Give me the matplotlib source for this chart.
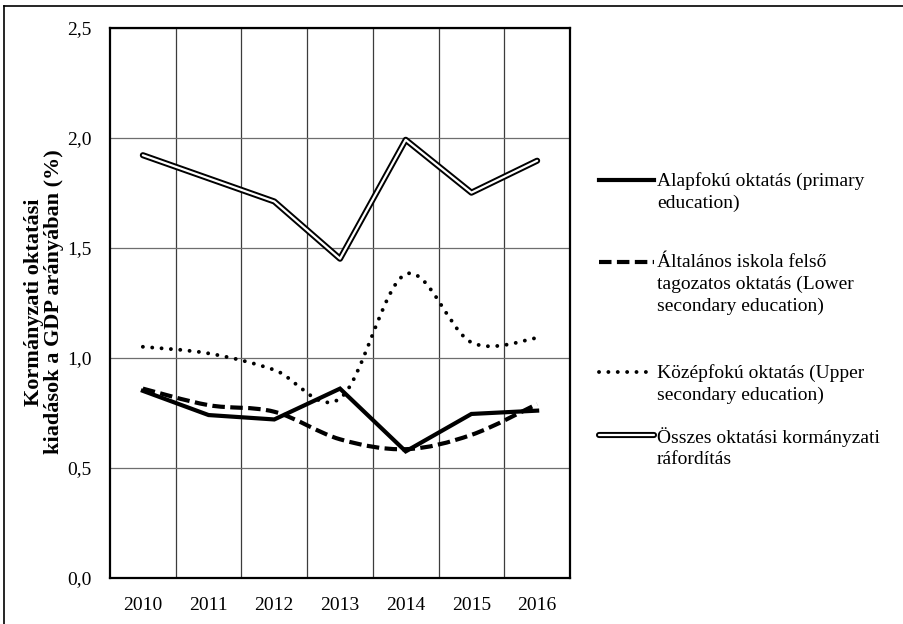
import matplotlib
matplotlib.use('Agg')
import matplotlib.pyplot as plt
import matplotlib.patheffects as pe
from matplotlib.path import Path
from matplotlib.patches import PathPatch
from matplotlib.lines import Line2D
from matplotlib.ticker import FixedLocator, FuncFormatter

plt.rcParams['font.family'] = ['Liberation Serif', 'DejaVu Serif']

# kormányzati oktatási kiadások a GDP %-ában
years = ['2010', '2011', '2012', '2013', '2014', '2015', '2016']
alapfoku = [0.85, 0.74, 0.72, 0.86, 0.575, 0.745, 0.76]
altalanos_felso = [0.86, 0.785, 0.755, 0.63, 0.585, 0.65, 0.79]
kozepfoku = [1.05, 1.02, 0.945, 0.815, 1.38, 1.07, 1.09]
osszes = [1.92, 1.815, 1.71, 1.45, 1.99, 1.75, 1.895]

labels = ['Alapfokú oktatás (primary\neducation)',
          'Általános iskola felső\ntagozatos oktatás (Lower\nsecondary education)',
          'Középfokú oktatás (Upper\nsecondary education)',
          'Összes oktatási kormányzati\nráfordítás']


def smooth_path(xs, ys):
    # simított vonal: Bezier szakaszok Catmull-Rom érintőkkel
    pts = list(zip(xs, ys))
    n = len(pts)
    verts = [pts[0]]
    codes = [Path.MOVETO]
    for i in range(n - 1):
        p0 = pts[i - 1] if i > 0 else pts[i]
        p1 = pts[i]
        p2 = pts[i + 1]
        p3 = pts[i + 2] if i + 2 < n else pts[i + 1]
        c1 = (p1[0] + (p2[0] - p0[0]) / 6, p1[1] + (p2[1] - p0[1]) / 6)
        c2 = (p2[0] - (p3[0] - p1[0]) / 6, p2[1] - (p3[1] - p1[1]) / 6)
        verts += [c1, c2, p2]
        codes += [Path.CURVE4] * 3
    return Path(verts, codes)


W, H = 904, 624
fig = plt.figure(figsize=(W / 100, H / 100), dpi=100)
ax = fig.add_axes([110 / W, 1 - 578 / H, 460 / W, (578 - 27.5) / H])

x = list(range(len(years)))

solid_lw = 3.0
ax.plot(x, alapfoku, color='black', lw=solid_lw, solid_joinstyle='miter', zorder=4)

dash_style = (0, (3.0, 1.3))
ax.add_patch(PathPatch(smooth_path(x, altalanos_felso), fill=False, edgecolor='black',
                       lw=solid_lw, linestyle=dash_style, capstyle='butt', zorder=3))

dot_lw = 2.8
dot_style = (0, (0.01, 2.4))
ax.add_patch(PathPatch(smooth_path(x, kozepfoku), fill=False, edgecolor='black',
                       lw=dot_lw, linestyle=dot_style, capstyle='round', zorder=3))

double_fx = [pe.Stroke(linewidth=4.4, foreground='black', capstyle='round'), pe.Normal()]
ax.plot(x, osszes, color='white', lw=1.6, solid_capstyle='round',
        path_effects=double_fx, zorder=5)

ax.set_xlim(-0.5, len(years) - 0.5)
ax.set_ylim(0, 2.5)
ax.set_xticks(x)
ax.set_xticklabels(years)
ax.xaxis.set_minor_locator(FixedLocator([i + 0.5 for i in range(len(years) - 1)]))
ax.set_yticks([0, 0.5, 1.0, 1.5, 2.0, 2.5])
ax.yaxis.set_major_formatter(FuncFormatter(lambda v, p: f'{v:.1f}'.replace('.', ',')))
ax.tick_params(axis='both', which='both', length=0, labelsize=14)
ax.tick_params(axis='y', pad=13)
ax.tick_params(axis='x', pad=14)
ax.grid(True, axis='y', which='major', color='#6e6e6e', lw=0.9)
ax.grid(True, axis='x', which='minor', color='#3c3c3c', lw=0.9)
ax.set_axisbelow(True)
for s in ax.spines.values():
    s.set_linewidth(1.6)
    s.set_color('black')

fig.text(44 / W, 1 - 302 / H, 'Kormányzati oktatási\nkiadások a GDP arányában (%)',
         rotation=90, ha='center', va='center', fontsize=16, fontweight='bold',
         linespacing=1.05)

# jelmagyarázat a rajzterület jobb oldalán
entry_y = [180, 262, 372, 435]
handle_styles = [
    dict(color='black', lw=solid_lw),
    dict(color='black', lw=solid_lw, linestyle=dash_style),
    dict(color='black', lw=dot_lw, linestyle=dot_style, dash_capstyle='round'),
    dict(color='white', lw=1.6, solid_capstyle='round', path_effects=double_fx),
]
for y, lab, st in zip(entry_y, labels, handle_styles):
    yf = 1 - y / H
    fig.add_artist(Line2D([599 / W, 654 / W], [yf, yf], transform=fig.transFigure, **st))
    fig.text(657 / W, 1 - (y - 8) / H, lab, ha='left', va='top', fontsize=14,
             linespacing=1.34)

# keret a kép bal és felső szélén
fig.add_artist(Line2D([4 / W, 1], [1 - 6 / H, 1 - 6 / H], transform=fig.transFigure,
                      color='black', lw=1.2))
fig.add_artist(Line2D([4 / W, 4 / W], [0, 1 - 6 / H], transform=fig.transFigure,
                      color='black', lw=1.2))

fig.savefig('out.png', dpi=100)
